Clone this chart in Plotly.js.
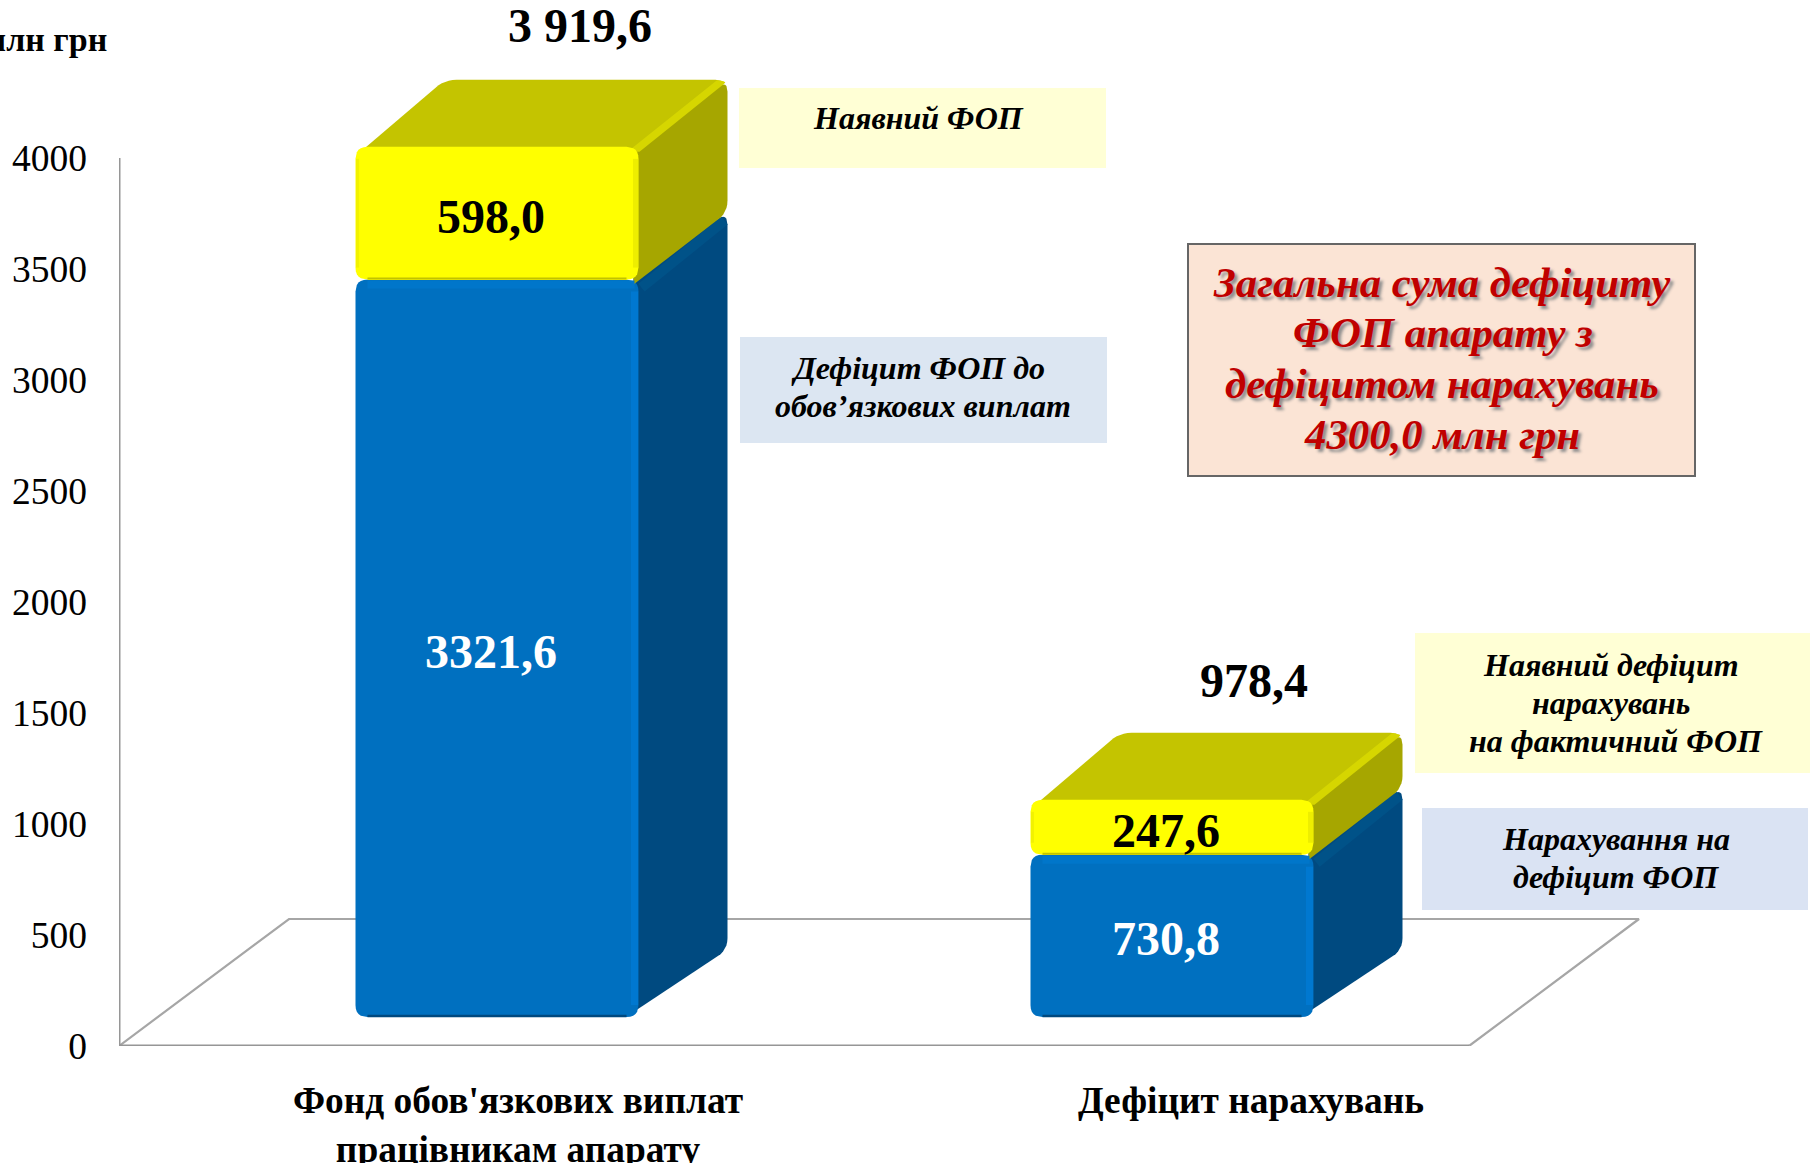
<!DOCTYPE html>
<html><head><meta charset="utf-8">
<script src="https://cdn.plot.ly/plotly-3.0.1.min.js"></script>
<style>html,body{margin:0;padding:0;background:#fff;overflow:hidden}</style>
</head><body><div id="chart" style="width:1810px;height:1163px"></div>
<script>
// ---- data
const categories = ["Фонд обов'язкових виплат<br>працівникам апарату", "Дефіцит нарахувань"];
const blueValues = [3321.6, 730.8];
const yellowValues = [598.0, 247.6];
const totalLabels = ["3 919,6", "978,4"];
const yTicks = [0, 500, 1000, 1500, 2000, 2500, 3000, 3500, 4000];

// ---- layout constants (pixels of the page)
const W = 1810, H = 1163, L = 119, B0 = 1046;
const kx = 675, ky = 0.222;           // px per x unit, px per value
const cat0 = 456.5;                   // page x of x=0
const barW = 283 / kx, barShift = 40.5 / kx;
const depthX = 89 / kx, depthY = 67 / ky, floorLift = 29 / ky;
const rad = 12;
const font = "Liberation Serif";
const fmt = v => v.toFixed(1).replace('.', ',');
const xRange = [(L - cat0) / kx, (W - cat0) / kx];

const tr = [];
// radii: one corner radius (px) per vertex
function roundPoly(pts, radii) {
  const xs = [], ys = [], n = pts.length;
  for (let i = 0; i < n; i++) {
    const p = pts[i], a = pts[(i + n - 1) % n], b = pts[(i + 1) % n], r = radii[i];
    if (!r) { xs.push(p[0]); ys.push(p[1]); continue; }
    const d = (q) => { const dx = (q[0]-p[0])*kx, dy = (q[1]-p[1])*ky, l = Math.hypot(dx,dy), t = Math.min(r, l/2)/l; return [p[0]+(q[0]-p[0])*t, p[1]+(q[1]-p[1])*t]; };
    const s = d(a), e = d(b);
    for (let k = 0; k <= 6; k++) {
      const t = k/6, u = 1-t;
      xs.push(u*u*s[0]+2*u*t*p[0]+t*t*e[0]);
      ys.push(u*u*s[1]+2*u*t*p[1]+t*t*e[1]);
    }
  }
  xs.push(xs[0]); ys.push(ys[0]);
  return {xs, ys};
}
function poly(pts, color, radii, yaxis) {
  const q = roundPoly(pts, radii);
  tr.push({type:'scatter', mode:'lines', x:q.xs, y:q.ys, fill:'toself', fillcolor:color, line:{width:0, color:color}, yaxis:yaxis||'y2', hoverinfo:'skip', showlegend:false});
}
function seg(x, y, color, width, yaxis) {
  tr.push({type:'scatter', mode:'lines', x:x, y:y, line:{color:color, width:width, simplify:false}, yaxis:yaxis||'y3', hoverinfo:'skip', showlegend:false});
}

// floor and value axis line (main axis)
const floorL = xRange[0], floorR = (1469 - cat0) / kx;
const back = 127 / ky, backDx = 170 / kx;
seg([floorL, floorL+backDx, floorR+backDx, floorR], [0, back, back, 0], '#a6a6a6', 2.2, 'y');
seg([floorL, floorR], [0, 0], '#969696', 3, 'y');
seg([floorL, floorL], [0, 4000], '#969696', 3, 'y');

// sides, tops and rounded front faces
const barX = categories.map((c, i) => i + barShift);
const ix = 5 / kx, iy = 5 / ky;  // front vertices tuck behind the rounded front face
const R4 = [rad, rad, rad, rad];
categories.forEach((c, i) => {
  const xl = barX[i] - barW/2, xr = barX[i] + barW/2;
  const b1 = blueValues[i], t1 = b1 + yellowValues[i];
  poly([[xr-ix,iy],[xr+depthX,depthY],[xr+depthX,b1+depthY],[xr-ix,b1+iy]], '#004a80', [0,rad,rad,0]);
  seg([xr+3/kx, xr+depthX-3/kx], [b1-8/ky, b1+depthY-8/ky], '#005288', 10, 'y2');
  poly([[xl,0],[xl,b1],[xr,b1],[xr,0]], '#0070c0', R4);
  poly([[xl+ix,t1-iy],[xl+depthX,t1+depthY],[xr+depthX,t1+depthY],[xr-ix,t1-iy]], '#c4c400', [0,rad,rad,0]);
  poly([[xr-ix,b1-iy],[xr+depthX,b1+depthY],[xr+depthX,t1+depthY],[xr-ix,t1-iy]], '#a6a600', [0,rad,rad,0]);
  poly([[xr-11/kx,t1-iy],[xr+depthX-11/kx,t1+depthY],[xr+depthX-1/kx,t1+depthY-2/ky],[xr+1/kx,t1-iy]], '#d6d600', [0,3,3,0]);
  poly([[xl,b1],[xl,t1],[xr,t1],[xr,b1]], '#ffff00', R4);
});

// front faces as bars
const innerW = barW - 2*rad/kx;
tr.push({type:'bar', name:'Дефіцит ФОП', x:barX, y:blueValues, width:innerW, yaxis:'y3',
  marker:{color:'#0070c0', line:{width:0}}, hoverinfo:'skip', showlegend:false});
tr.push({type:'bar', name:'Наявний ФОП', x:barX, y:yellowValues, width:innerW, yaxis:'y3',
  marker:{color:'#ffff00', line:{width:0}}, hoverinfo:'skip', showlegend:false});

// bevel edges on the fronts
categories.forEach((c, i) => {
  const xl = barX[i] - barW/2, xr = barX[i] + barW/2;
  const b1 = blueValues[i], t1 = b1 + yellowValues[i];
  const m = rad/kx, my = rad/ky;
  seg([xl+m, xr-m], [1/ky, 1/ky], '#00497f', 2.5);
  seg([xr-4/kx, xr-4/kx], [my, b1-my], '#0078d0', 7);
  seg([xl+m, xr-4/kx], [b1-5/ky, b1-5/ky], '#0076ca', 8);
  seg([xl+m, xr-m], [b1+1/ky, b1+1/ky], '#c2c200', 2);
  seg([xr-3/kx, xr-3/kx], [b1+my, t1-my], '#eeee00', 5);
  seg([xl+2/kx, xl+2/kx], [b1+my, t1-my], '#f2f200', 3);
});

// value labels, centred on each segment
const labelDx = -6 / kx, labelDy = -7.5 / ky;
tr.push({type:'scatter', mode:'text', yaxis:'y3', x:barX.map(v => v + labelDx), y:blueValues.map(v => v/2 + labelDy),
  text:blueValues.map(fmt), textposition:'middle center', textfont:{family:font, size:48, color:'#ffffff', weight:'bold'}, hoverinfo:'skip', showlegend:false});
tr.push({type:'scatter', mode:'text', yaxis:'y3', x:barX.map(v => v + labelDx), y:blueValues.map((v, i) => v + yellowValues[i]/2 + labelDy),
  text:yellowValues.map(fmt), textposition:'middle center', textfont:{family:font, size:48, color:'#000000', weight:'bold'}, hoverinfo:'skip', showlegend:false});

const px = x => (x - L) / (W - L), py = y => (B0 - y) / B0;
function note(text, x, y, size, opts) {
  return Object.assign({text, x:px(x), y:py(y), xref:'paper', yref:'paper', showarrow:false, xanchor:'center', yanchor:'middle', align:'center',
    font:Object.assign({family:font, size:size, color:'#000', weight:'bold'}, (opts||{}).font||{})}, (opts||{}).rest||{});
}
function rect(x0, y0, x1, y1, fill, line) {
  return {type:'rect', xref:'paper', yref:'paper', x0:px(x0), x1:px(x1), y0:py(y1), y1:py(y0), fillcolor:fill, line:line||{width:0}, layer:'below'};
}
const it = {font:{style:'italic'}};
const red = {font:{style:'italic', color:'#c00000', shadow:'3px 3px 3px #8f8f8f'}};
const layout = {
  width:W, height:H, paper_bgcolor:'#fff', plot_bgcolor:'rgba(0,0,0,0)', showlegend:false, barmode:'stack', dragmode:false,
  margin:{l:L, r:0, t:0, b:H-B0, pad:0}, hovermode:false,
  xaxis:{type:'linear', range:xRange, showgrid:false, zeroline:false, showline:false, ticks:'',
    tickmode:'array', tickvals:[(518-cat0)/kx, (1251-cat0)/kx], ticktext:categories, ticklabelstandoff:29,
    tickfont:{family:font, size:37.4, color:'#000', weight:'bold'}},
  yaxis:{range:[0, B0/ky], showgrid:false, zeroline:false, showline:false, ticks:'', tickmode:'array', tickvals:yTicks,
    ticktext:yTicks.map(String), ticklabelstandoff:31, tickfont:{family:font, size:37.5, color:'#000'}},
  yaxis2:{range:[-floorLift, B0/ky-floorLift], overlaying:'y', visible:false},
  yaxis3:{range:[-floorLift, B0/ky-floorLift], overlaying:'y', visible:false},
  shapes:[
    rect(739,88,1106,168,'#ffffd5'),
    rect(740,337,1107,443,'#dce6f2'),
    rect(1415,633,1810,773,'#ffffd5'),
    rect(1422,808,1808,910,'#dae3f3'),
    rect(1188,244,1695,476,'#fbe4d5',{color:'#666666',width:2})
  ],
  annotations:[
    note('млн грн', 108.5, 39, 34, {rest:{xanchor:'right'}}),
    note(totalLabels[0], 580, 25, 48),
    note(totalLabels[1], 1254, 680, 48),
    note('Наявний ФОП', 918, 118, 32, it),
    note('Дефіцит ФОП до', 918, 368, 32, it),
    note('обов’язкових виплат', 923, 406, 32, it),
    note('Наявний дефіцит', 1611, 665, 32, it),
    note('нарахувань', 1611, 703, 32, it),
    note('на фактичний ФОП', 1616, 741, 32, it),
    note('Нарахування на', 1616, 839, 32, it),
    note('дефіцит ФОП', 1616, 877, 32, it),
    note('Загальна сума дефіциту', 1442, 282, 42.8, red),
    note('ФОП апарату з', 1443, 333, 42.8, red),
    note('дефіцитом нарахувань', 1442, 384, 42.8, red),
    note('4300,0 млн грн', 1442, 435, 42.8, red)
  ]
};
Plotly.newPlot('chart', tr, layout, {displayModeBar:false, staticPlot:true});
</script></body></html>
